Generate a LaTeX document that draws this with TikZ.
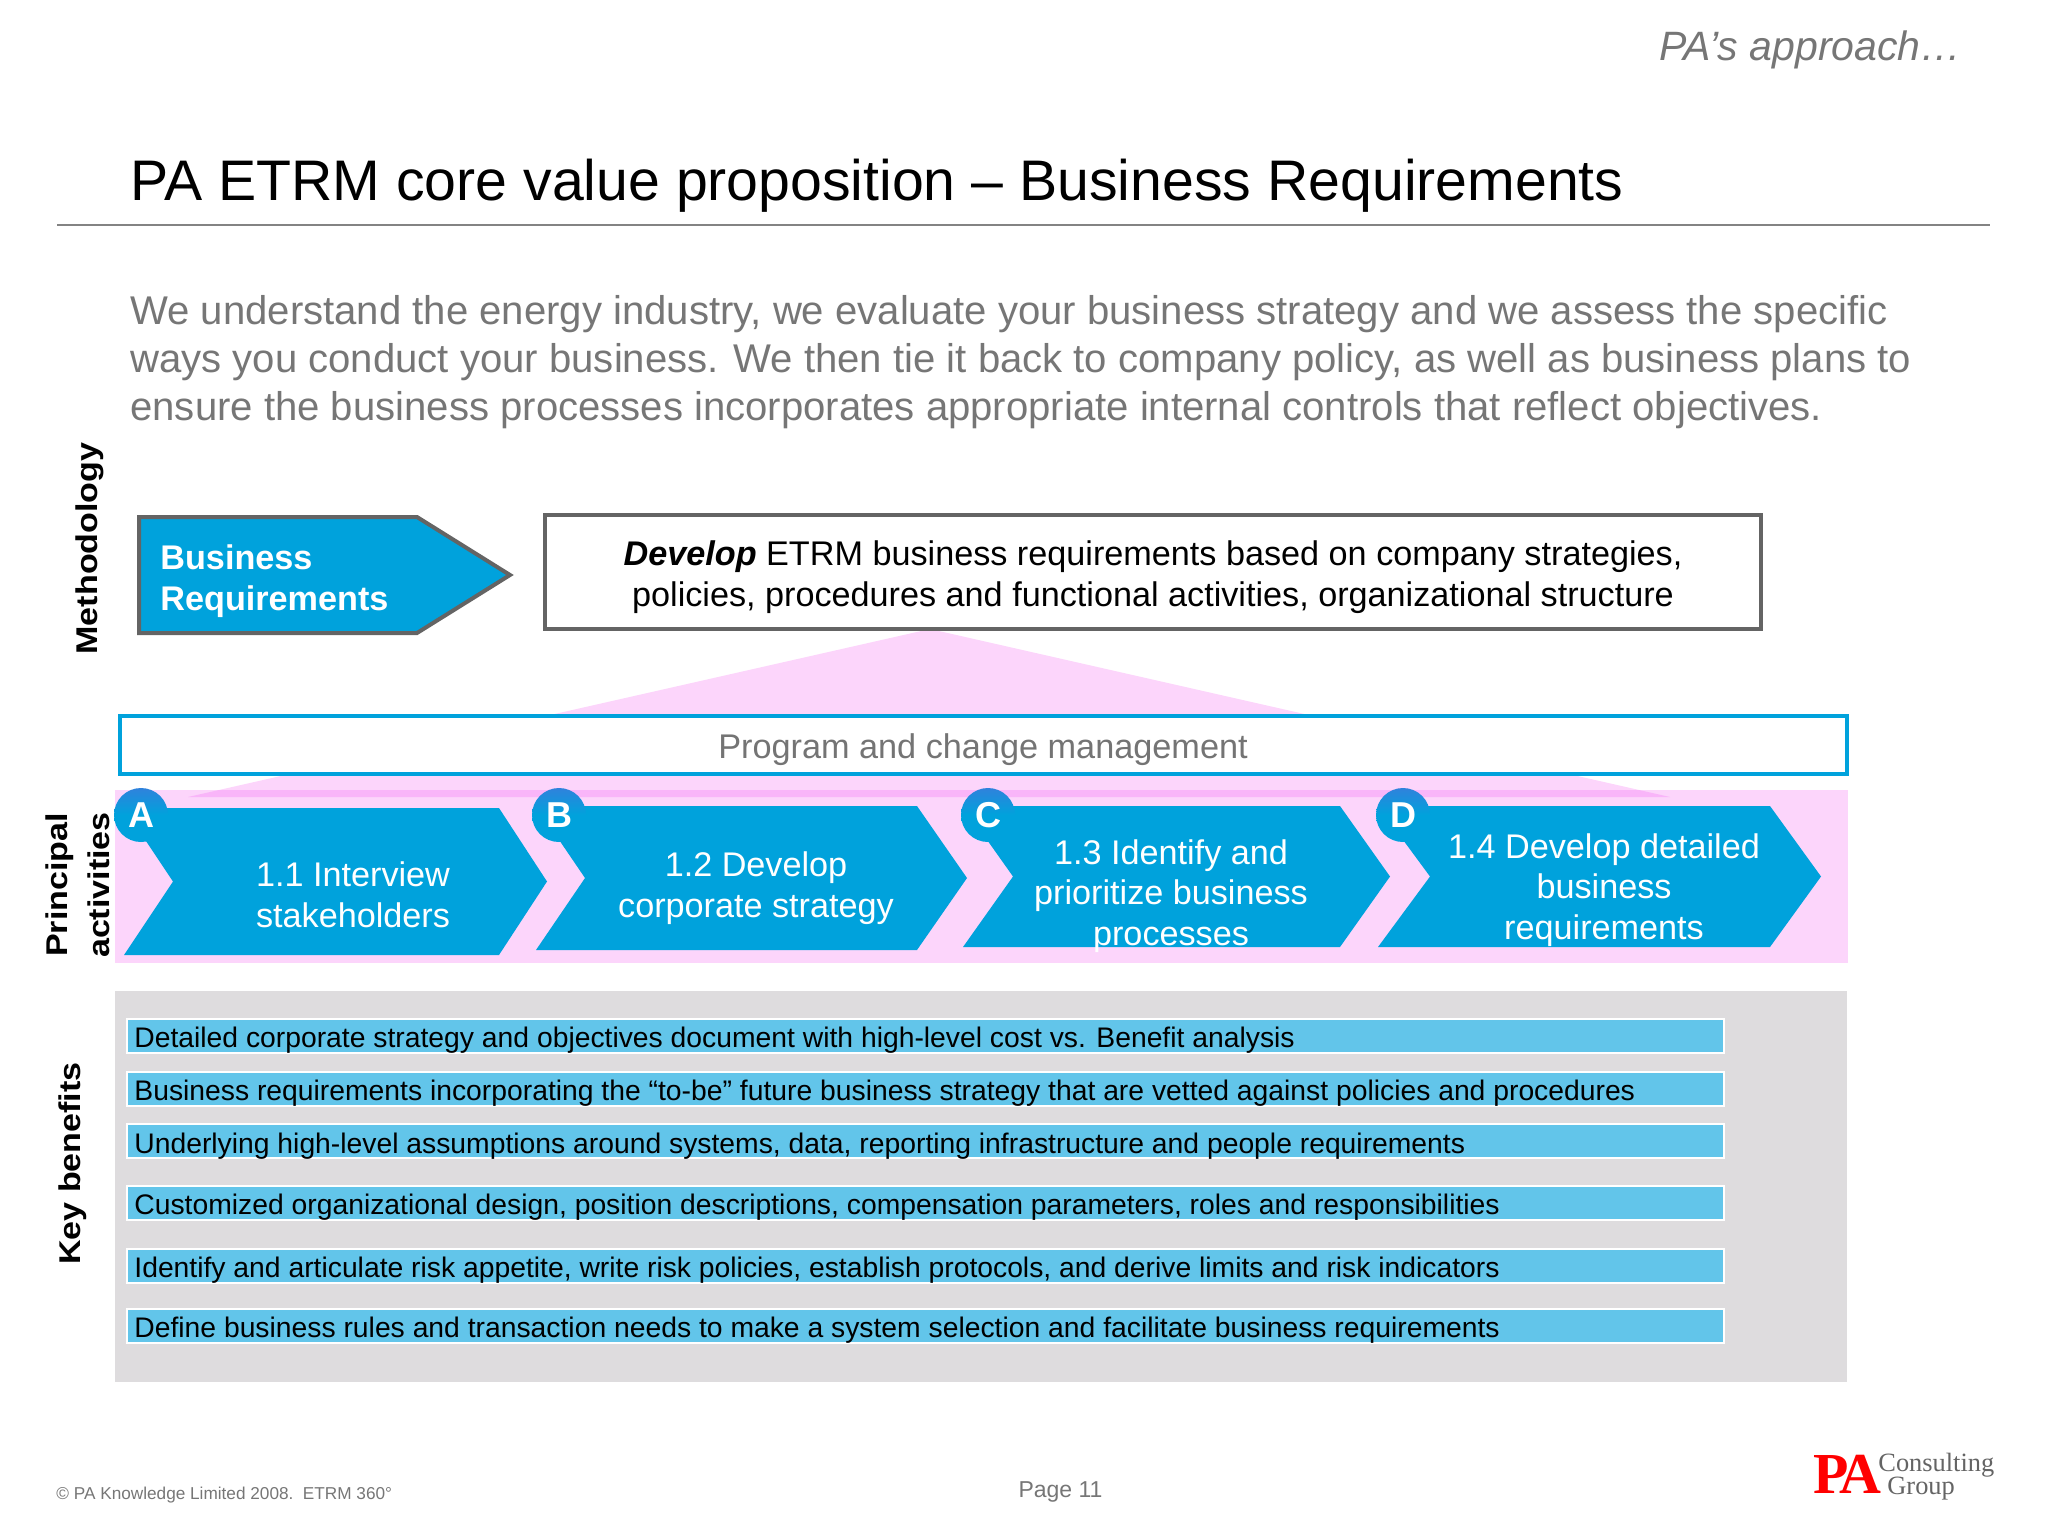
\documentclass[tikz,border=0pt]{standalone}
\usepackage{fontspec}
\setmainfont{Liberation Sans}
\newfontfamily\logofont{Liberation Serif}
\usetikzlibrary{positioning}
\definecolor{paBlue}{HTML}{00A2DC}
\definecolor{paTop}{HTML}{2F82DC}
\definecolor{paPink}{HTML}{FCD5FB}
\definecolor{paBand}{HTML}{F9B5F9}
\definecolor{paBar}{HTML}{62C5EA}
\definecolor{paGrey}{HTML}{DEDCDE}
\definecolor{paText}{HTML}{767676}
\definecolor{paEdge}{HTML}{646464}
\tikzstyle{chevron} = [fill=paBlue, draw=none]
\tikzstyle{steptext} = [inner sep=0pt, text=white, align=center, font=\fontsize{17.1}{20.3}\selectfont]
\tikzstyle{letter} = [circle, minimum size=27pt, inner sep=0pt, top color=paTop, bottom color=paBlue, middle color=paBlue, text=white, font=\fontsize{18}{20}\selectfont\bfseries]
\tikzstyle{bar} = [draw=white, line width=1pt, fill=paBar, minimum height=17pt, minimum width=798.5pt, anchor=west, inner sep=0pt]
\tikzstyle{bartext} = [anchor=west, inner sep=0pt, font=\fontsize{14.15}{16}\selectfont]
\tikzstyle{side} = [rotate=90, xscale=1.135, inner sep=0pt, align=center, font=\fontsize{15}{21}\selectfont\bfseries]
\newcommand{\bluearrow}[6]{\fill[chevron] (#1,#3) -- (#4,#3) -- (#5,{(#3+#6)/2}) -- (#4,#6) -- (#1,#6) -- (#2,{(#3+#6)/2}) -- cycle;}
\newcommand{\badge}[1]{\raisebox{-2.5pt}{#1}}

\begin{document}
\begin{tikzpicture}[x=.5pt,y=-.5pt]
  \useasboundingbox (0,0) rectangle (2048,1536);
  % header
  \node[anchor=east, inner sep=0pt, text=paText, font=\fontsize{20.5}{23}\selectfont\itshape] (corner) at (1962,49.6) {PA’s approach…};
  \node[anchor=west, inner sep=0pt, font=\fontsize{28.6}{32}\selectfont] (title) at (130,186) {PA ETRM core value proposition – Business Requirements};
  \coordinate (ruleL) at (57,225);
  \coordinate (ruleR) at (1990,225);
  \draw[paEdge!80, line width=.8pt] (ruleL) -- (ruleR);
  \node[anchor=west, inner sep=0pt, align=left, text=paText, font=\fontsize{20.05}{24.1}\selectfont] (intro) at (130,362) {We understand the energy industry, we evaluate your business strategy and we assess the specific\\ways you conduct your business. We then tie it back to company policy, as well as business plans to\\ensure the business processes incorporates appropriate internal controls that reflect objectives.};
  % pink backdrop
  \fill[paPink] (115,790) rectangle (1848,963);
  \fill[paPink] (930,629) -- (188,797) -- (1670,797) -- cycle;
  \fill[paBand] (219,790) -- (188,797) -- (1670,797) -- (1639,790) -- cycle;
  % methodology row
  \draw[paEdge, line width=2pt, fill=paBlue] (139,517) -- (417,517) -- (510,575) -- (417,633) -- (139,633) -- cycle;
  \node[anchor=west, inner sep=0pt, align=left, text=white, font=\fontsize{17.1}{20.5}\selectfont\bfseries] (method) at (160,581) {Business\\Requirements};
  \node[draw=paEdge, line width=2pt, fill=white, minimum width=608pt, minimum height=57pt, inner sep=0pt] (develop) at (1153,572) {};
  \node[inner sep=0pt, align=center, font=\fontsize{17.1}{20.3}\selectfont] (developtext) at (1153,577) {\textbf{\textit{Develop}} ETRM business requirements based on company strategies,\\policies, procedures and functional activities, organizational structure};
  \node[draw=paBlue, line width=2pt, fill=white, minimum width=863.5pt, minimum height=29pt, inner sep=0pt] (program) at (983.5,745) {};
  \node[inner sep=0pt, text=paEdge!90, font=\fontsize{17.13}{20}\selectfont] (programtext) at (983,750) {Program and change management};
  % principal activities
  \bluearrow{124}{173}{808}{499}{547}{955}
  \bluearrow{536}{585}{806}{917}{967}{950}
  \bluearrow{963}{1013}{806}{1340}{1390}{947}
  \bluearrow{1378}{1430}{806}{1770}{1821}{947}
  \node[letter] (A) at (141,815) {\badge{A}};
  \node[letter] (B) at (559,815) {\badge{B}};
  \node[letter] (C) at (988,815) {\badge{C}};
  \node[letter] (D) at (1403,815) {\badge{D}};
  \node[steptext] (one) at (353,895) {1.1 Interview\\stakeholders};
  \node[steptext] (two) at (756,888) {1.2 Develop\\corporate strategy};
  \node[steptext] (three) at (1171,896) {1.3 Identify and\\prioritize business\\processes};
  \node[steptext] (four) at (1604,890) {1.4 Develop detailed\\business\\requirements};
  % key benefits
  \fill[paGrey] (115,991) rectangle (1847,1382);
  \node[bar] (b1) at (126,1036) {};
  \node[bar] (b2) at (126,1089) {};
  \node[bar] (b3) at (126,1141) {};
  \node[bar] (b4) at (126,1203) {};
  \node[bar] (b5) at (126,1266) {};
  \node[bar] (b6) at (126,1325.5) {};
  \node[bartext] (t1) at (134,1040) {Detailed corporate strategy and objectives document with high-level cost vs. Benefit analysis};
  \node[bartext] (t2) at (134,1093) {Business requirements incorporating the “to-be” future business strategy that are vetted against policies and procedures};
  \node[bartext] (t3) at (134,1146) {Underlying high-level assumptions around systems, data, reporting infrastructure and people requirements};
  \node[bartext] (t4) at (134,1207) {Customized organizational design, position descriptions, compensation parameters, roles and responsibilities};
  \node[bartext] (t5) at (134,1270) {Identify and articulate risk appetite, write risk policies, establish protocols, and derive limits and risk indicators};
  \node[bartext] (t6) at (134,1330) {Define business rules and transaction needs to make a system selection and facilitate business requirements};
  % side labels
  \node[side] (lmeth) at (90,548.5) {Methodology};
  \node[side] (lprin) at (78,885) {Principal\\activities};
  \node[side] (lkey) at (73,1163.5) {Key benefits};
  % footer
  \node[anchor=west, inner sep=0pt, text=paText, font=\fontsize{8.6}{10}\selectfont] (copy) at (56,1495) {© PA Knowledge Limited 2008.\ \ ETRM 360°};
  \node[inner sep=0pt, text=paText, font=\fontsize{11.5}{13}\selectfont] (page) at (1060.5,1492) {Page 11};
  \node[anchor=west, inner sep=0pt, text=red, font=\logofont\fontsize{29}{30}\selectfont\bfseries] (logo) at (1813,1474) {P\kern-4.5pt A};
  \node[anchor=west, inner sep=0pt, text=paEdge, font=\logofont\fontsize{13.2}{15}\selectfont] (cons) at (1878,1465) {Consulting};
  \node[anchor=west, inner sep=0pt, text=paEdge, font=\logofont\fontsize{13.2}{15}\selectfont] (group) at (1887,1488.5) {Group};
\end{tikzpicture}
\end{document}
